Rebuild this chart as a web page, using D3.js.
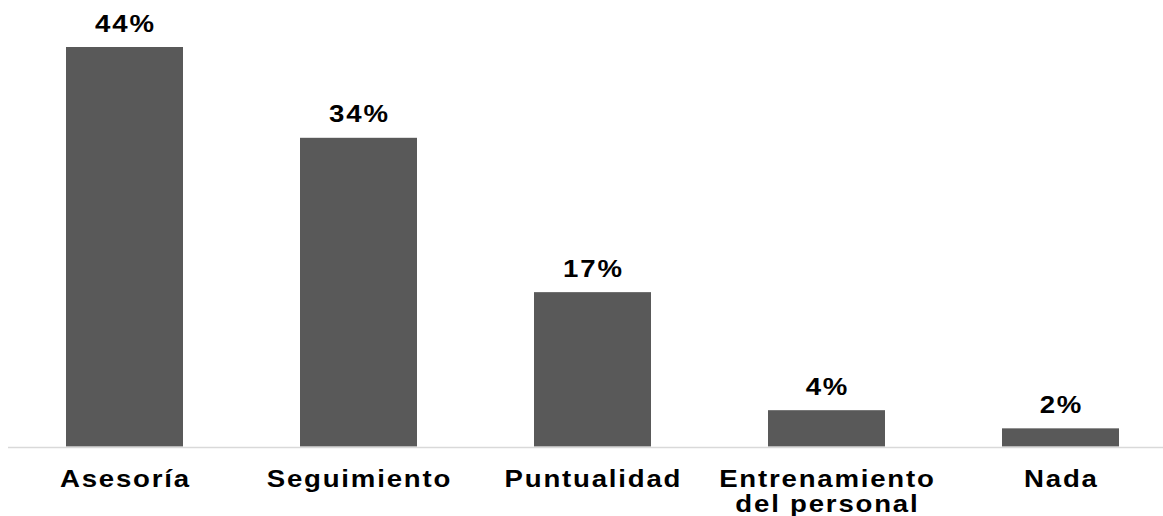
<!DOCTYPE html>
<html>
<head>
<meta charset="utf-8">
<script src="https://cdn.jsdelivr.net/npm/d3@7"></script>
<style>
  html, body { margin: 0; padding: 0; background: #ffffff; }
  svg { display: block; }
  text { font-family: "Liberation Sans", Arial, sans-serif; font-weight: bold; fill: #000; }
</style>
</head>
<body>
<svg id="chart" width="1163" height="516"></svg>
<script>
// Categories and their share of responses (%)
const categories = ["Asesoría", "Seguimiento", "Puntualidad", "Entrenamiento del personal", "Nada"];
const categoryLines = [["Asesoría"], ["Seguimiento"], ["Puntualidad"], ["Entrenamiento", "del personal"], ["Nada"]];
const values = [44, 34, 17, 4, 2];
const valueLabels = ["44%", "34%", "17%", "4%", "2%"];

const W = 1163, H = 516;
const svg = d3.select("#chart");

const x = d3.scaleBand()
  .domain(categories)
  .range([7.5, 1177.5])
  .paddingInner(0.5)
  .paddingOuter(0.25);

const y = d3.scaleLinear()
  .domain([0, 44])
  .range([446.5, 47]);

const stretch = 1.2;
const spacing = 1.5;

// Bars
svg.append("g").selectAll("rect")
  .data(categories)
  .join("rect")
  .attr("x", d => x(d))
  .attr("width", x.bandwidth())
  .attr("y", (d, i) => y(values[i]))
  .attr("height", (d, i) => y(0) - y(values[i]))
  .attr("fill", "#595959");

// Category axis line
svg.append("line")
  .attr("x1", 8).attr("x2", W)
  .attr("y1", y(0) + 1).attr("y2", y(0) + 1)
  .attr("stroke", "#d9d9d9")
  .attr("stroke-width", 1.5);

// Value labels above bars
svg.append("g").selectAll("g")
  .data(categories)
  .join("g")
  .attr("transform", (d, i) => `translate(${x(d) + x.bandwidth() / 2 + spacing * stretch / 2},${y(values[i]) - 15.5}) scale(${stretch},1)`)
  .append("text")
  .attr("text-anchor", "middle")
  .attr("font-size", 23)
  .attr("letter-spacing", spacing)
  .text((d, i) => valueLabels[i]);

// Category labels
const cat = svg.append("g").selectAll("g")
  .data(categories)
  .join("g")
  .attr("transform", d => `translate(${x(d) + x.bandwidth() / 2 + spacing * stretch / 2},486.5) scale(${stretch},1)`);

cat.append("text")
  .attr("text-anchor", "middle")
  .attr("font-size", 23)
  .attr("letter-spacing", spacing)
  .selectAll("tspan")
  .data((d, i) => categoryLines[i])
  .join("tspan")
  .attr("x", 0)
  .attr("dy", (d, j) => j === 0 ? 0 : 25.5)
  .text(d => d);
</script>
</body>
</html>
